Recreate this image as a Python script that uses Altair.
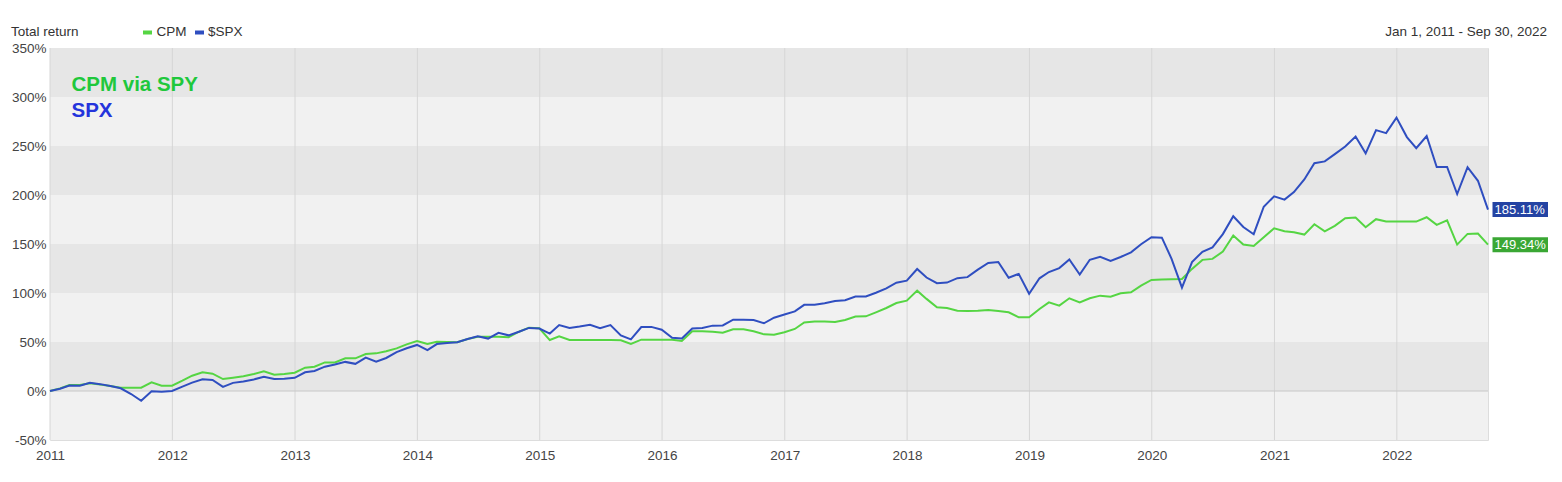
import calendar
import altair as alt
import pandas as pd

# ---------------- data ----------------
dates = ["2011-01-01"]
for yr in range(2011, 2023):
    for mo in range(1, 13):
        if yr == 2022 and mo > 9:
            break
        dates.append(f"{yr}-{mo:02d}-{calendar.monthrange(yr, mo)[1]:02d}")

spx = [
    0.0,
    2.3, 5.5, 5.4, 8.4, 7.0, 5.0, 2.8, -3.1, -10.0, -0.3, -0.8, 0.0,
    4.4, 8.6, 12.0, 11.2, 4.2, 8.3, 9.7, 11.8, 14.6, 12.3, 12.6, 13.4,
    19.1, 20.4, 24.8, 27.0, 29.7, 27.7, 34.0, 29.8, 33.7, 39.7, 43.6, 47.0,
    41.7, 47.9, 48.9, 49.8, 53.0, 55.9, 53.5, 59.3, 56.8, 60.5, 64.4, 63.7,
    58.6, 67.3, 64.4, 65.8, 67.6, 64.0, 67.3, 56.8, 52.7, 65.3, 65.4, 62.5,
    54.3, 53.6, 63.8, 64.2, 66.7, 66.9, 72.8, 72.6, 72.4, 69.1, 74.8, 78.0,
    81.2, 87.9, 87.9, 89.6, 91.8, 92.7, 96.4, 96.5, 100.3, 104.8, 110.5, 112.6,
    124.5, 115.8, 110.0, 110.6, 115.1, 116.2, 123.9, 130.7, 131.7, 115.6, 119.5, 99.3,
    115.0, 121.4, 125.4, 134.2, 118.8, 133.9, 137.0, 132.7, 136.7, 141.5, 149.8, 156.9,
    156.5, 134.9, 105.5, 131.6, 142.1, 146.5, 160.1, 178.3, 167.4, 160.0, 188.0, 198.7,
    195.3, 203.0, 215.9, 232.5, 234.3, 241.7, 249.5, 259.6, 242.5, 266.2, 263.1, 279.0,
    259.1, 247.8, 260.2, 228.5, 228.6, 201.0, 228.4, 214.5, 185.11,
]

cpm = [
    0.0,
    2.7, 6.1, 6.1, 8.0, 6.5, 5.0, 3.4, 3.4, 3.4, 8.8, 5.4, 5.4,
    10.5, 15.6, 19.0, 17.7, 12.2, 13.6, 15.0, 17.3, 20.0, 16.7, 17.3, 18.7,
    23.8, 24.8, 29.2, 29.2, 33.3, 33.3, 37.7, 38.4, 40.5, 43.5, 47.6, 51.0,
    48.0, 50.3, 50.0, 49.7, 53.0, 55.4, 55.4, 55.4, 54.8, 60.5, 64.6, 64.0,
    52.0, 55.8, 52.0, 52.0, 52.0, 52.0, 52.0, 51.7, 48.0, 52.4, 52.4, 52.4,
    52.4, 51.0, 61.0, 61.0, 60.5, 59.5, 63.0, 63.0, 61.0, 57.8, 57.5, 60.0,
    63.3, 70.0, 71.0, 71.0, 70.4, 72.5, 76.0, 76.2, 80.3, 84.7, 89.8, 92.2,
    102.4, 94.0, 85.4, 84.7, 82.0, 81.7, 82.0, 82.7, 81.7, 80.3, 75.2, 75.2,
    83.7, 90.5, 87.1, 94.6, 90.5, 94.6, 97.3, 96.3, 99.7, 100.7, 107.5, 113.3,
    113.8, 114.0, 114.3, 124.6, 133.8, 134.8, 142.3, 158.6, 149.4, 148.0, 156.9, 166.0,
    163.0, 162.0, 159.6, 170.2, 163.0, 168.5, 176.3, 177.0, 167.1, 175.3, 172.9, 172.9,
    172.9, 172.9, 177.3, 169.5, 174.2, 149.4, 160.3, 160.6, 149.34,
]

series_names = ["CPM", "$SPX"]
line_colors = ["#55d543", "#2f4ec0"]
label_colors = ["#3aa734", "#2443a3"]

year_ticks = [f"{y}-01-01" for y in range(2011, 2023)]
y_ticks = [-50, 0, 50, 100, 150, 200, 250, 300, 350]
band_lo = [-50, 300, 200, 100, 0]
band_hi = [350, 350, 250, 150, 50]
band_shade = ["light", "dark", "dark", "dark", "dark"]

FONT = "Liberation Sans"
W, H = 1438, 392

df = pd.DataFrame({
    "date": dates * 2,
    "series": ["CPM"] * len(cpm) + ["$SPX"] * len(spx),
    "value": cpm + spx,
})

end_df = pd.DataFrame({
    "date": [dates[-1], dates[-1]],
    "series": ["CPM", "$SPX"],
    "value": [cpm[-1], spx[-1]],
    "label": [f"{cpm[-1]:.2f}%", f"{spx[-1]:.2f}%"],
})

x_scale = alt.Scale(
    type="utc",
    domain=[alt.DateTime(year=2011, month=1, date=1, utc=True),
            alt.DateTime(year=2022, month=9, date=30, utc=True)],
)
y_scale = alt.Scale(domain=[-50, 350], nice=False, zero=False)

x_axis = alt.Axis(
    values=[alt.DateTime(year=y, month=1, date=1, utc=True) for y in range(2011, 2023)],
    format="%Y", formatType="utc", title=None, grid=False, ticks=False, tickSize=0,
    domain=False, labelFlush=False, labelFont=FONT, labelFontSize=13.5,
    labelColor="#444444", labelBaseline="alphabetic", labelPadding=19,
)
y_axis = alt.Axis(
    values=y_ticks, labelExpr="datum.value + '%'", title=None, grid=False,
    ticks=False, tickSize=0, domain=False, labelFont=FONT, labelFontSize=13.5,
    labelColor="#444444", labelPadding=4, labelBaseline="middle",
)

# ---------------- layers ----------------
bands = alt.Chart(pd.DataFrame({"lo": band_lo, "hi": band_hi, "shade": band_shade})).mark_rect().encode(
    x=alt.value(0), x2=alt.value(W),
    y=alt.Y("lo:Q", scale=y_scale, axis=y_axis), y2="hi:Q",
    color=alt.Color("shade:N", scale=alt.Scale(domain=["light", "dark"], range=["#f1f1f1", "#e6e6e6"]), legend=None),
    order=alt.Order("hi:Q", sort="descending"),
)

vgrid = alt.Chart(pd.DataFrame({"d": year_ticks})).mark_rule(
    color="#d6d6d6", strokeWidth=1
).encode(x=alt.X("d:T", scale=x_scale, axis=x_axis))

zero = alt.Chart(pd.DataFrame({"z": [0]})).mark_rule(
    color="#c8c8c8", strokeWidth=1
).encode(y=alt.Y("z:Q", scale=y_scale))

lines = alt.Chart(df).mark_line(strokeWidth=2, interpolate="linear").encode(
    x=alt.X("date:T", scale=x_scale),
    y=alt.Y("value:Q", scale=y_scale),
    color=alt.Color("series:N", scale=alt.Scale(domain=series_names, range=line_colors), legend=None),
)
cpm_line = lines.transform_filter(alt.datum.series == "CPM")
spx_line = lines.transform_filter(alt.datum.series == "$SPX")

end_rects = alt.Chart(end_df).mark_rect(
    xOffset=4.5, x2Offset=64.5, yOffset=-7.5, y2Offset=7.5
).encode(
    x=alt.X("date:T", scale=x_scale), x2="date:T",
    y=alt.Y("value:Q", scale=y_scale), y2="value:Q",
    color=alt.Color("series:N", scale=alt.Scale(domain=series_names, range=label_colors), legend=None),
)
end_text = alt.Chart(end_df).mark_text(
    align="left", baseline="middle", dx=6.5, dy=0.5, color="white", font=FONT, fontSize=13
).encode(
    x=alt.X("date:T", scale=x_scale),
    y=alt.Y("value:Q", scale=y_scale),
    text="label:N",
)

def txt(s, x, y, size=13.5, color="#333333", align="left", weight="normal"):
    return alt.Chart(pd.DataFrame({"t": [s]})).mark_text(
        align=align, baseline="alphabetic", font=FONT, fontSize=size,
        color=color, fontWeight=weight,
    ).encode(x=alt.value(x), y=alt.value(y), text="t:N")

def swatch(x0, color):
    return alt.Chart(pd.DataFrame({"s": [0]})).mark_rect(color=color).encode(
        x=alt.value(x0), x2=alt.value(x0 + 9), y=alt.value(-17.5), y2=alt.value(-13.5)
    )

header = [
    txt("Total return", -39, -12),
    swatch(93, line_colors[0]),
    txt("CPM", 106.5, -12),
    swatch(145, line_colors[1]),
    txt("$SPX", 158, -12),
    txt("Jan 1, 2011 - Sep 30, 2022", 1497, -12, align="right"),
    txt("CPM via SPY", 21.5, 42.5, size=20.5, color="#1fc83c", weight="bold"),
    txt("SPX", 21.5, 68.5, size=20.5, color="#2434dc", weight="bold"),
]

chart = alt.layer(
    bands, vgrid, zero, cpm_line, spx_line, end_rects, end_text, *header
).resolve_scale(color="independent").properties(
    width=W, height=H,
    padding={"left": 42, "top": 40, "right": 60, "bottom": 30},
    autosize=alt.AutoSizeParams(type="none"),
).configure_view(
    strokeWidth=0
).configure(background="white")

chart.save("out.html", embed_options={"renderer": "svg", "actions": False})
